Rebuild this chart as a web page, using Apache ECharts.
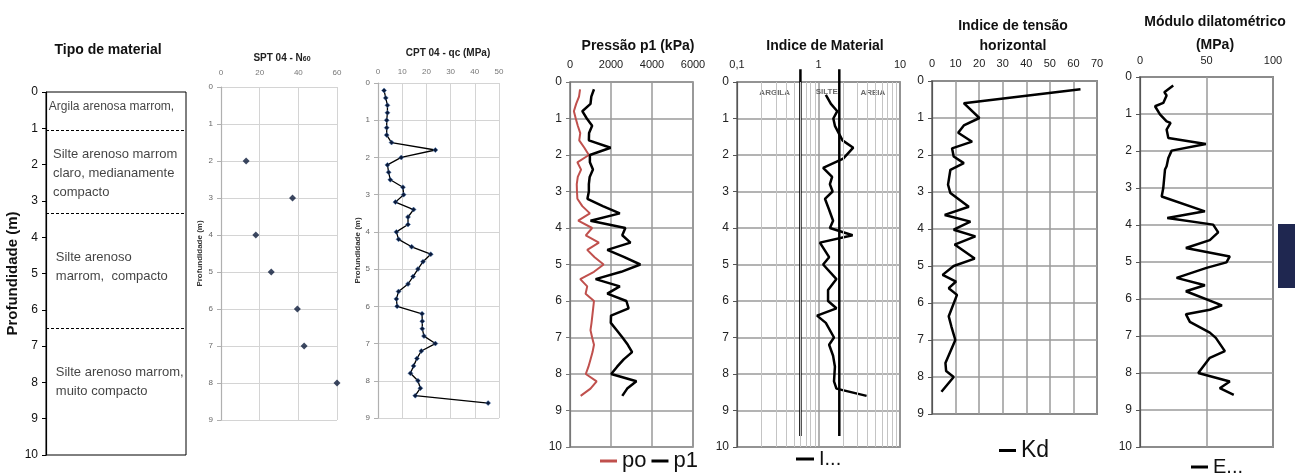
<!DOCTYPE html>
<html>
<head>
<meta charset="utf-8">
<script src="https://cdn.jsdelivr.net/npm/echarts@6/dist/echarts.min.js"></script>
<style>
  html, body { margin: 0; padding: 0; background: #fff; }
  #chart { width: 1295px; height: 473px; }
</style>
</head>
<body>
<div id="chart"></div>
<script>
const FONT = '"Liberation Sans Narrow", "Liberation Sans", Arial, sans-serif'

// Tipo de material
const layerBounds = [1.05, 3.35, 6.5]
const layerText = [
  'Argila arenosa marrom,',
  'Silte arenoso marrom\nclaro, medianamente\ncompacto',
  'Silte arenoso\nmarrom,  compacto',
  'Silte arenoso marrom,\nmuito compacto',
]
const layerTextDepth = [0.41, 2.23, 4.83, 7.99]
const layerTextX = [0.02, 0.05, 0.07, 0.07]
const layerTextSize = [12, 13, 13, 13]

// SPT 04
const sptDepth = [2, 3, 4, 5, 6, 7, 8]
const sptN60 = [13, 37, 18, 26, 39.5, 43, 60]

// CPT 04
const cptDepth = [0.2, 0.4, 0.6, 0.8, 1.0, 1.2, 1.4, 1.6, 1.8, 2.0, 2.2, 2.4, 2.6, 2.8, 3.0,
  3.2, 3.4, 3.6, 3.8, 4.0, 4.2, 4.4, 4.6, 4.8, 5.0, 5.2, 5.4, 5.6, 5.8, 6.0,
  6.2, 6.4, 6.6, 6.8, 7.0, 7.2, 7.4, 7.6, 7.8, 8.0, 8.2, 8.4, 8.6]
const cptQc = [2.5, 3.2, 3.9, 3.9, 3.6, 3.6, 3.6, 5.6, 23.7, 9.6, 3.9, 4.4, 5.1, 10.3, 10.6,
  7.2, 14.7, 12.4, 12.4, 7.6, 8.5, 13.9, 21.8, 18.6, 16.5, 14.5, 12.4, 8.5, 7.6, 7.9,
  18.2, 18.3, 18.3, 19.0, 23.7, 17.9, 16.1, 14.7, 13.4, 16.5, 17.5, 15.4, 45.5]

// DMT - pressoes
const dmtDepth = [0.2, 0.4, 0.6, 0.8, 1.0, 1.2, 1.4, 1.6, 1.8, 2.0, 2.2, 2.4, 2.6, 2.8, 3.0,
  3.2, 3.4, 3.6, 3.8, 4.0, 4.2, 4.4, 4.6, 4.8, 5.0, 5.2, 5.4, 5.6, 5.8, 6.0,
  6.2, 6.4, 6.6, 6.8, 7.0, 7.2, 7.4, 7.6, 7.8, 8.0, 8.2, 8.4, 8.6]
const p0 = [490, 440, 300, 190, 280, 380, 500, 450, 700, 920, 360, 540, 380, 330, 340,
  360, 600, 970, 400, 1080, 770, 1410, 840, 1200, 1640, 1170, 500, 840, 760, 1170,
  1130, 1090, 1050, 1000, 1080, 1170, 1100, 1000, 900, 770, 1300, 1000, 520]
const p1 = [1170, 1040, 1000, 600, 820, 1080, 930, 920, 1980, 970, 970, 1120, 960, 920, 920,
  850, 1600, 2430, 1000, 2700, 2550, 2950, 1820, 2650, 3430, 2500, 1250, 2430, 1820, 2750,
  2860, 2000, 1990, 2280, 2560, 2820, 3030, 2620, 2300, 2010, 3240, 2790, 2550]

// Indice de material
const idDepth = [0.35, 0.6, 0.8, 1.0, 1.2, 1.6, 1.8, 2.1, 2.35, 2.6, 2.8, 3.0, 3.2, 3.5, 3.8,
  4.0, 4.2, 4.4, 4.8, 5.0, 5.4, 5.7, 6.0, 6.2, 6.4, 6.6, 7.0, 7.2, 7.5, 7.8, 8.2, 8.4, 8.6]
const idVal = [1.23, 1.42, 1.70, 1.52, 1.59, 1.97, 2.67, 2.01, 1.14, 1.47, 1.38, 1.49, 1.20, 1.35, 1.51,
  1.38, 2.62, 1.04, 1.35, 1.14, 1.66, 1.31, 1.31, 1.66, 0.96, 1.23, 1.55, 1.35, 1.51, 1.59, 1.55, 1.66, 3.89]
const idLimits = [0.6, 1.8]
const idLimitDepth = [-0.35, 9.7]
const idMinorTicks = [0.2, 0.3, 0.4, 0.5, 0.6, 0.7, 0.8, 0.9, 2, 3, 4, 5, 6, 7, 8, 9]
const idZoneName = ['ARGILA', 'SILTE', 'AREIA']
const idZoneX = [0.29, 1.26, 4.65]
const idZoneDepth = [0.29, 0.27, 0.29]

// Indice de tensao horizontal
const kdDepth = [0.22, 0.6, 1.0, 1.2, 1.4, 1.64, 1.82, 2.04, 2.22, 2.4, 2.8, 3.03, 3.4, 3.62, 3.8,
  4.02, 4.2, 4.42, 4.8, 5.0, 5.24, 5.42, 5.6, 5.78, 6.36, 6.63, 7.0, 7.62, 7.84, 8.0, 8.4]
const kdVal = [63, 13.5, 20.1, 13.5, 11.1, 17, 8.5, 9.2, 13.5, 7.8, 6.8, 7.8, 15.6, 5.4, 16.3,
  9.2, 18.4, 9.6, 18.1, 9.2, 4.5, 10.2, 7.1, 10.6, 7.1, 8.2, 9.9, 5.7, 6.0, 9.2, 4.0]

// Modulo dilatometrico
const eDepth = [0.23, 0.41, 0.5, 0.7, 0.79, 1.01, 1.2, 1.24, 1.42, 1.65, 1.81, 1.99, 2.19, 2.41, 2.5,
  3.0, 3.23, 3.63, 3.81, 3.99, 4.2, 4.41, 4.62, 4.85, 5.01, 5.16, 5.43, 5.63, 5.79, 6.17,
  6.29, 6.41, 6.62, 6.91, 7.05, 7.41, 7.59, 8.0, 8.23, 8.41, 8.59]
const eVal = [25, 18.3, 20, 17.5, 11.3, 15, 20, 23, 20, 21.3, 49.5, 23.8, 21.3, 20, 18.8,
  17.5, 16.3, 48.8, 20.5, 55, 58.8, 52.5, 34.5, 67.5, 65, 50, 27.5, 48.8, 34.5, 61.6,
  52.5, 34.5, 37.5, 52.5, 57, 63.8, 52.5, 43.8, 67.5, 60, 70.5]

const pts = (xs, ds) => ds.map((d, i) => [xs[i], d])

const GRID_DARK = '#9a9a9a'
const GRID_LIGHT = '#d4d4d4'

function xTop(gridIndex, min, max, interval, color, size, margin) {
  return {
    gridIndex, type: 'value', position: 'top', min, max, interval,
    axisLine: { show: false },
    axisTick: { show: false },
    axisLabel: { fontFamily: FONT, fontSize: size, color, margin, formatter: v => String(v) },
    splitLine: { show: true, lineStyle: { color: size > 9 ? GRID_DARK : GRID_LIGHT, width: size > 9 ? 1.5 : 1 } },
  }
}

function yDepth(gridIndex, max, color, size, lineColor, gridColor) {
  return {
    gridIndex, type: 'value', inverse: true, min: 0, max, interval: 1,
    axisLine: { show: true, onZero: false, lineStyle: { color: lineColor, width: 1.2 } },
    axisTick: { show: true, length: 4, lineStyle: { color: lineColor } },
    axisLabel: { fontFamily: FONT, fontSize: size, color, margin: 8 },
    splitLine: { show: !!gridColor, lineStyle: { color: gridColor, width: gridColor === GRID_DARK ? 1.5 : 1 } },
  }
}

const chart = echarts.init(document.getElementById('chart'))

const option = {
  animation: false,
  backgroundColor: '#fff',
  textStyle: { fontFamily: FONT },
  title: [
    { text: 'Tipo de material', left: 103, top: 38, textAlign: 'center', textStyle: { fontFamily: FONT, fontSize: 14, fontWeight: 'bold', color: '#111' } },
    { text: '{a|SPT 04 - N}{b|60}', left: 277, top: 48, textAlign: 'center', textStyle: { rich: {
      a: { fontFamily: FONT, fontSize: 10, fontWeight: 'bold', color: '#222' },
      b: { fontFamily: FONT, fontSize: 7, fontWeight: 'bold', color: '#222', verticalAlign: 'bottom' } } } },
    { text: 'CPT 04 - qc (MPa)', left: 443, top: 43, textAlign: 'center', textStyle: { fontFamily: FONT, fontSize: 10, fontWeight: 'bold', color: '#222' } },
    { text: 'Pressão p1 (kPa)', left: 633, top: 34, textAlign: 'center', textStyle: { fontFamily: FONT, fontSize: 14, fontWeight: 'bold', color: '#111' } },
    { text: 'Indice de Material', left: 820, top: 34, textAlign: 'center', textStyle: { fontFamily: FONT, fontSize: 14, fontWeight: 'bold', color: '#111' } },
    { text: 'Indice de tensão\nhorizontal', left: 1008, top: 11, textAlign: 'center', textStyle: { fontFamily: FONT, fontSize: 14, fontWeight: 'bold', color: '#111', lineHeight: 20 } },
    { text: 'Módulo dilatométrico\n(MPa)', left: 1210, top: 6, textAlign: 'center', textStyle: { fontFamily: FONT, fontSize: 14, fontWeight: 'bold', color: '#111', lineHeight: 23 } },
  ],
  legend: [
    { data: ['po', 'p1'], left: 595, top: 445, icon: 'rect', itemWidth: 17, itemHeight: 3, itemGap: 5, selectedMode: false,
      textStyle: { fontFamily: FONT, fontSize: 22, color: '#111' } },
    { data: ['Id'], left: 791, top: 444, icon: 'rect', itemWidth: 18, itemHeight: 3, selectedMode: false,
      formatter: () => 'I...', textStyle: { fontFamily: FONT, fontSize: 20, color: '#111' } },
    { data: ['Kd'], left: 994, top: 434, icon: 'rect', itemWidth: 17, itemHeight: 3, selectedMode: false,
      textStyle: { fontFamily: FONT, fontSize: 23, color: '#111' } },
    { data: ['E'], left: 1186, top: 452, icon: 'rect', itemWidth: 17, itemHeight: 3, selectedMode: false,
      formatter: () => 'E...', textStyle: { fontFamily: FONT, fontSize: 20, color: '#111' } },
  ],
  grid: [
    { left: 46, top: 92, width: 140, height: 363, show: true, borderColor: '#000', borderWidth: 1 },
    { left: 221, top: 87, width: 116, height: 333 },
    { left: 378, top: 83, width: 121, height: 335 },
    { left: 570, top: 82, width: 123, height: 365, show: true, borderColor: '#777', borderWidth: 1.5 },
    { left: 737, top: 82, width: 163, height: 365, show: true, borderColor: '#555', borderWidth: 1.5 },
    { left: 932, top: 81, width: 165, height: 333, show: true, borderColor: '#333', borderWidth: 1.5 },
    { left: 1140, top: 77, width: 133, height: 370, show: true, borderColor: '#333', borderWidth: 1.5 },
  ],
  xAxis: [
    { gridIndex: 0, type: 'value', min: 0, max: 1, show: false },
    xTop(1, 0, 60, 20, '#777', 8, 10),
    xTop(2, 0, 50, 10, '#777', 8, 7),
    xTop(3, 0, 6000, 2000, '#222', 11, 12),
    {
      gridIndex: 4, type: 'log', logBase: 10, min: 0.1, max: 10, position: 'top',
      axisLine: { show: false }, axisTick: { show: false },
      axisLabel: { fontFamily: FONT, fontSize: 11, color: '#222', margin: 12, formatter: v => String(v).replace('.', ',') },
      splitLine: { show: true, lineStyle: { color: GRID_DARK, width: 1.5 } },
    },
    xTop(5, 0, 70, 10, '#222', 11, 12),
    xTop(6, 0, 100, 50, '#222', 11, 11),
  ],
  yAxis: [
    Object.assign(yDepth(0, 10, '#111', 12, '#000', null), {
      name: 'Profundidade (m)', nameLocation: 'middle', nameRotate: 90, nameGap: 21,
      nameTextStyle: { fontFamily: FONT, fontSize: 15, fontWeight: 'bold', color: '#111' },
    }),
    Object.assign(yDepth(1, 9, '#666', 8, '#b0b0b0', GRID_LIGHT), {
      name: 'Profundidade (m)', nameLocation: 'middle', nameRotate: 90, nameGap: 17,
      nameTextStyle: { fontFamily: FONT, fontSize: 8, fontWeight: 'bold', color: '#333' },
    }),
    Object.assign(yDepth(2, 9, '#666', 8, '#b0b0b0', GRID_LIGHT), {
      name: 'Profundidade (m)', nameLocation: 'middle', nameRotate: 90, nameGap: 10,
      nameTextStyle: { fontFamily: FONT, fontSize: 8, fontWeight: 'bold', color: '#333' },
    }),
    yDepth(3, 10, '#222', 12, '#777', GRID_DARK),
    yDepth(4, 10, '#222', 12, '#555', GRID_DARK),
    yDepth(5, 9, '#222', 12, '#555', GRID_DARK),
    yDepth(6, 10, '#222', 12, '#555', GRID_DARK),
  ],
  series: [
    {
      type: 'scatter', xAxisIndex: 0, yAxisIndex: 0, symbolSize: 1,
      itemStyle: { color: 'rgba(0,0,0,0)' },
      data: layerText.map((t, i) => ({
        value: [layerTextX[i], layerTextDepth[i]],
        label: { fontSize: layerTextSize[i], formatter: t },
      })),
      label: {
        show: true, position: 'inside', align: 'left', verticalAlign: 'middle',
        fontFamily: FONT, fontSize: 13, lineHeight: 19, color: '#111',
      },
      markLine: {
        silent: true, symbol: 'none', label: { show: false },
        lineStyle: { color: '#000', type: [3, 2], width: 1 },
        data: layerBounds.map(d => ({ yAxis: d })),
      },
    },
    {
      type: 'scatter', xAxisIndex: 1, yAxisIndex: 1, symbol: 'diamond', symbolSize: 7,
      itemStyle: { color: '#0b1a3a' },
      data: pts(sptN60, sptDepth),
    },
    {
      type: 'line', xAxisIndex: 2, yAxisIndex: 2, symbol: 'diamond', symbolSize: 5,
      lineStyle: { color: '#000', width: 1.3 },
      itemStyle: { color: '#0b1a3a', borderColor: '#4a78b5', borderWidth: 0.5 },
      data: pts(cptQc, cptDepth),
    },
    {
      name: 'po', type: 'line', xAxisIndex: 3, yAxisIndex: 3, symbol: 'none',
      color: '#c0504d', lineStyle: { color: '#c0504d', width: 2 },
      data: pts(p0, dmtDepth),
    },
    {
      name: 'p1', type: 'line', xAxisIndex: 3, yAxisIndex: 3, symbol: 'none',
      color: '#000', lineStyle: { color: '#000', width: 2.5 },
      data: pts(p1, dmtDepth),
    },
    {
      name: 'Id', type: 'line', xAxisIndex: 4, yAxisIndex: 4, symbol: 'none',
      color: '#000', lineStyle: { color: '#000', width: 2.5 },
      data: pts(idVal, idDepth),
      markLine: {
        silent: true, symbol: 'none', label: { show: false },
        lineStyle: { color: '#c4c4c4', type: 'solid', width: 1 },
        data: idMinorTicks.map(v => ({ xAxis: v })),
      },
    },
    ...idLimits.map(v => ({
      name: 'lim' + v, type: 'line', xAxisIndex: 4, yAxisIndex: 4, symbol: 'none', clip: false,
      lineStyle: { color: '#000', width: 2.5 },
      data: idLimitDepth.map(d => [v, d]),
    })),
    {
      type: 'scatter', xAxisIndex: 4, yAxisIndex: 4, symbolSize: 1,
      itemStyle: { color: 'rgba(0,0,0,0)' },
      data: idZoneName.map((n, i) => [idZoneX[i], idZoneDepth[i], n]),
      label: {
        show: true, position: 'inside', formatter: p => p.data[2],
        fontFamily: FONT, fontSize: 8, fontWeight: 'bold', color: '#444',
      },
    },
    {
      name: 'Kd', type: 'line', xAxisIndex: 5, yAxisIndex: 5, symbol: 'none',
      color: '#000', lineStyle: { color: '#000', width: 2.5 },
      data: pts(kdVal, kdDepth),
    },
    {
      name: 'E', type: 'line', xAxisIndex: 6, yAxisIndex: 6, symbol: 'none',
      color: '#000', lineStyle: { color: '#000', width: 2.5 },
      data: pts(eVal, eDepth),
    },
  ],
  graphic: [
    { type: 'rect', shape: { x: 1278, y: 224, width: 17, height: 64 }, style: { fill: '#1f2750' } },
  ],
}

chart.setOption(option)
</script>
</body>
</html>
